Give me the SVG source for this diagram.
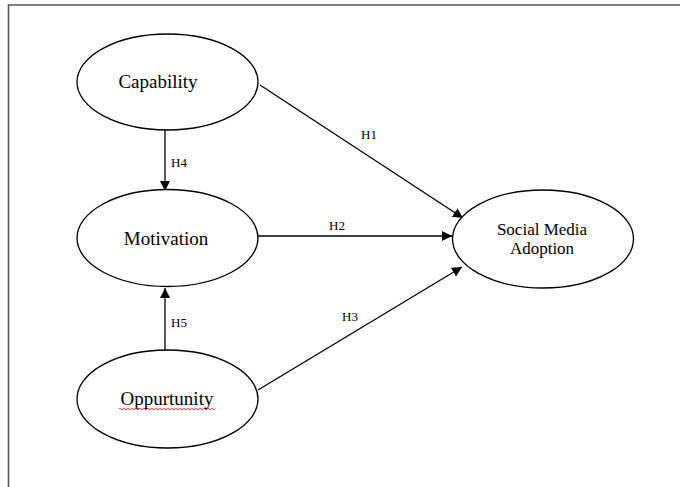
<svg xmlns="http://www.w3.org/2000/svg" width="680" height="487" viewBox="0 0 680 487">
<defs>
<style>
.node ellipse{fill:#fff;stroke:#000;stroke-width:1.3}
.lbl{font-family:"Liberation Serif","Times New Roman",serif;fill:#000;text-anchor:middle}
.big{font-size:19px}
.mid{font-size:17px}
.h{font-size:13px;text-anchor:start}
.edge{stroke:#000;stroke-width:1.3;fill:none;marker-end:url(#ah)}
</style>
<marker id="ah" viewBox="0 0 10 10" refX="10" refY="5" markerWidth="10" markerHeight="10" markerUnits="userSpaceOnUse" orient="auto">
<path d="M0,0 L10,5 L0,10 z" fill="#000"/>
</marker>
</defs>
<rect width="680" height="487" fill="#fff"/>
<path d="M8.5,487 L8.5,5 L680,5" fill="none" stroke="#555" stroke-width="1.6"/>
<g id="connectors">
<line class="edge" x1="165" y1="130" x2="165" y2="191"/>
<line class="edge" x1="165" y1="350" x2="165" y2="288"/>
<line class="edge" x1="260" y1="85" x2="463" y2="218"/>
<line class="edge" x1="258" y1="236" x2="452" y2="236"/>
<line class="edge" x1="258" y1="390" x2="462" y2="267"/>
<text class="lbl h" x="361" y="139">H1</text>
<text class="lbl h" x="329" y="230">H2</text>
<text class="lbl h" x="342" y="321">H3</text>
<text class="lbl h" x="171" y="167">H4</text>
<text class="lbl h" x="171" y="327">H5</text>
</g>
<g id="capability" class="node">
<ellipse cx="167.5" cy="82" rx="90.5" ry="48"/>
<text class="lbl big" x="158" y="88">Capability</text>
</g>
<g id="motivation" class="node">
<ellipse cx="167.5" cy="238" rx="90.5" ry="48.5"/>
<text class="lbl big" x="166" y="245">Motivation</text>
</g>
<g id="oppurtunity" class="node">
<ellipse cx="167.5" cy="399" rx="90.5" ry="49"/>
<text class="lbl big" x="167" y="405">Oppurtunity</text>
<path d="M119,409 q1,-1.5 2,0 t2,0 t2,0 t2,0 t2,0 t2,0 t2,0 t2,0 t2,0 t2,0 t2,0 t2,0 t2,0 t2,0 t2,0 t2,0 t2,0 t2,0 t2,0 t2,0 t2,0 t2,0 t2,0 t2,0 t2,0 t2,0 t2,0 t2,0 t2,0 t2,0 t2,0 t2,0 t2,0 t2,0 t2,0 t2,0 t2,0 t2,0 t2,0 t2,0 t2,0 t2,0 t2,0 t2,0 t2,0 t2,0 t2,0 t2,0" fill="none" stroke="#e0201e" stroke-width="0.9"/>
</g>
<g id="social-media-adoption" class="node">
<ellipse cx="543" cy="239" rx="90.5" ry="49"/>
<text class="lbl mid" x="542" y="235">Social Media</text>
<text class="lbl mid" x="542" y="254">Adoption</text>
</g>
</svg>
